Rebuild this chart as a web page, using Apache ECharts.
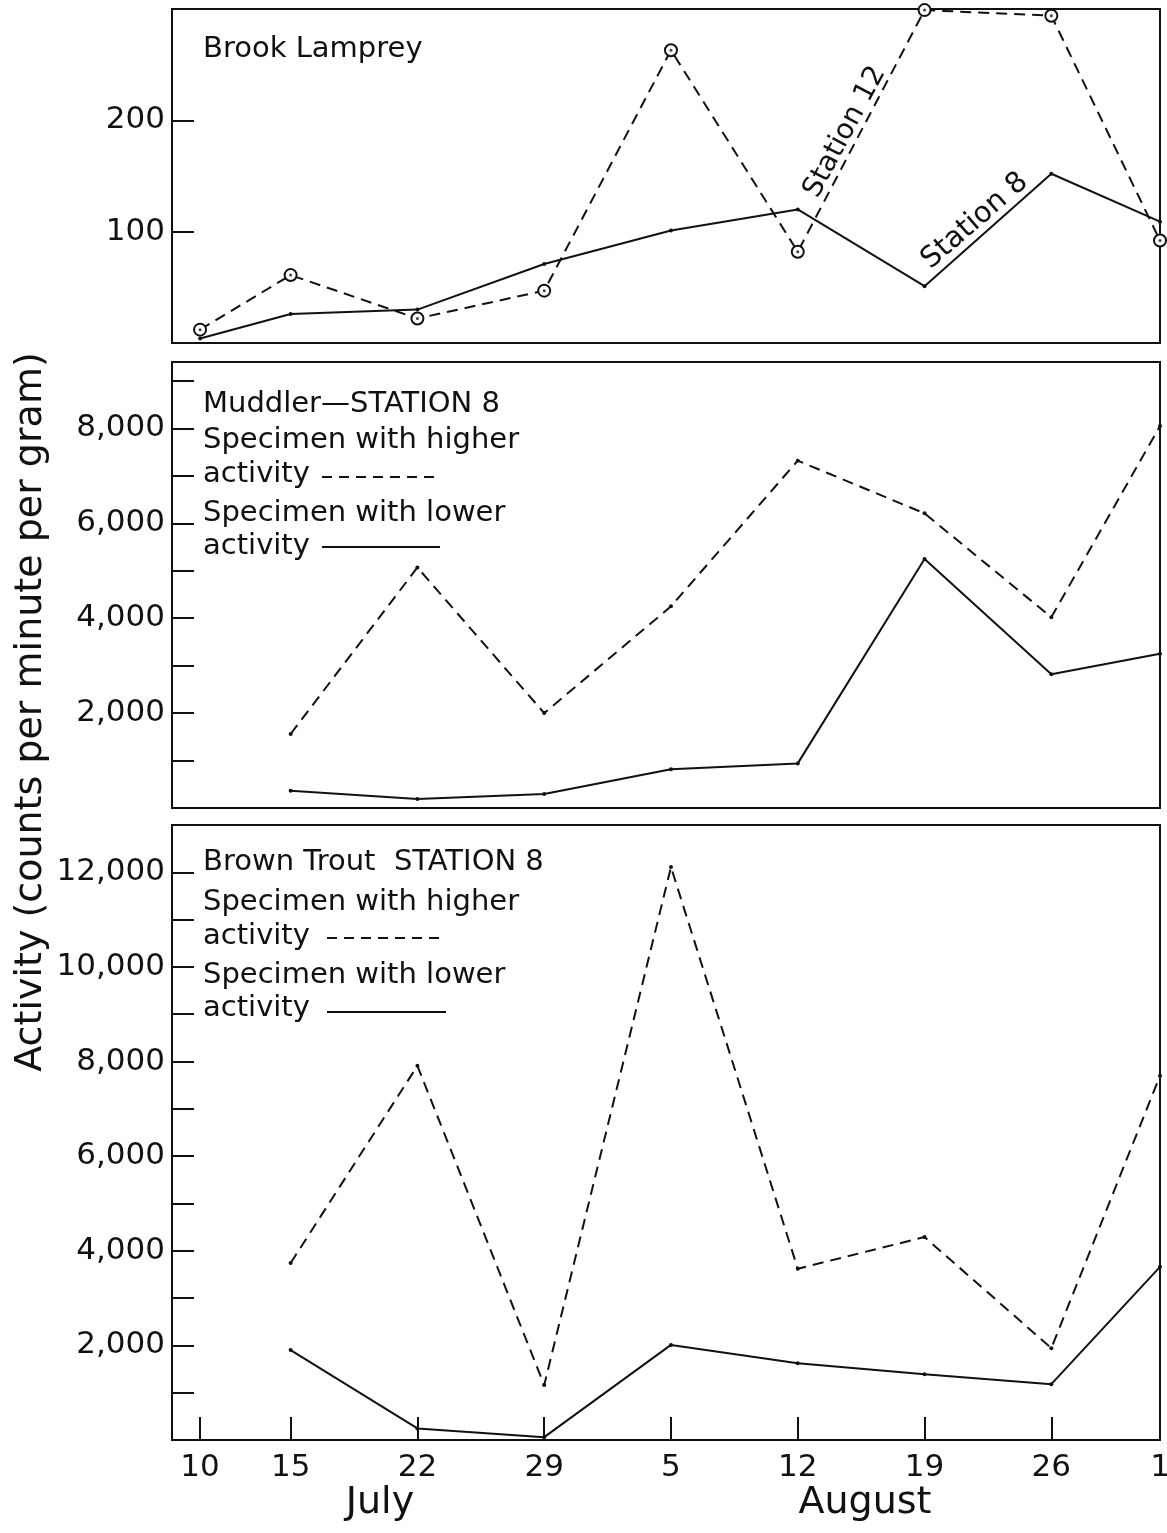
<!DOCTYPE html>
<html>
<head>
<meta charset="utf-8">
<script src="https://cdn.jsdelivr.net/npm/echarts@6/dist/echarts.min.js"></script>
<style>
html,body{margin:0;padding:0;background:#fff;}
#chart{width:1167px;height:1533px;}
</style>
</head>
<body>
<div id="chart"></div>
<script>
// ---- data ----
// x positions: day number counted from June 30 (July 10 = 10, Aug 5 = 36, Sep 1 = 63)
const dayValues = [10, 15, 22, 29, 36, 43, 50, 57, 63];
const dayLabels = ['10', '15', '22', '29', '5', '12', '19', '26', '1'];
const fishDays = [15, 22, 29, 36, 43, 50, 57, 63];

// Brook Lamprey (counts per minute per gram)
const lampreyStation12 = [12, 61, 22, 47, 263, 82, 299, 294, 92];
const lampreyStation8 = [4, 26, 30, 71, 101, 120, 51, 152, 109];

// Muddler - Station 8
const muddlerHigher = [1560, 5070, 2000, 4250, 7320, 6210, 4020, 8050];
const muddlerLower = [365, 190, 295, 815, 940, 5250, 2820, 3250];

// Brown Trout - Station 8
const troutHigher = [3740, 7910, 1160, 12110, 3620, 4290, 1940, 7700];
const troutLower = [1900, 245, 60, 2010, 1620, 1390, 1180, 3660];

// tick values
const lampreyTicks = [100, 200];
const muddlerTicks = [1000, 2000, 3000, 4000, 5000, 6000, 7000, 8000, 9000];
const muddlerLabels = [2000, 4000, 6000, 8000];
const troutTicks = [1000, 2000, 3000, 4000, 5000, 6000, 7000, 8000, 9000, 10000, 11000, 12000];
const troutLabels = [2000, 4000, 6000, 8000, 10000, 12000];

// ---- chart ----
const FONT = 'DejaVu Sans';
const INK = '#111';
const pair = (xs, ys) => ys.map((v, i) => [xs[i], v]);
const fmt = v => v >= 1000 ? String(v).replace(/\B(?=(\d{3})+(?!\d))/g, ',') : String(v);

const gridBase = { left: 172, right: 7, show: true, borderColor: INK, borderWidth: 2, backgroundColor: 'transparent', containLabel: false, outerBoundsMode: 'none' };
const grids = [
  Object.assign({ top: 9, height: 334 }, gridBase),
  Object.assign({ top: 362, height: 446 }, gridBase),
  Object.assign({ top: 825, height: 615 }, gridBase)
];

function xAx(i, showLabels) {
  return {
    type: 'value', gridIndex: i, min: 8.45, max: 63,
    axisLine: { show: false },
    splitLine: { show: false },
    axisTick: showLabels ? { show: true, inside: true, length: 23, lineStyle: { color: INK, width: 2 }, customValues: dayValues } : { show: false },
    axisLabel: showLabels ? {
      show: true, customValues: dayValues, margin: 12,
      fontFamily: FONT, fontSize: 31, color: INK,
      formatter: v => dayLabels[dayValues.indexOf(v)]
    } : { show: false }
  };
}
function yAx(i, max, ticks, labels) {
  return {
    type: 'value', gridIndex: i, min: 0, max: max,
    axisLine: { show: false },
    splitLine: { show: false },
    axisTick: { show: true, inside: true, length: 22, lineStyle: { color: INK, width: 2 }, customValues: ticks },
    axisLabel: { show: true, customValues: labels, margin: 7, fontFamily: FONT, fontSize: 31, color: INK, formatter: fmt }
  };
}

const solid = { color: INK, width: 2, type: 'solid' };
const dashed = { color: INK, width: 2, type: [11, 7] };
const dot = { symbol: 'circle', symbolSize: 4, itemStyle: { color: INK } };

const series = [
  Object.assign({ type: 'line', xAxisIndex: 0, yAxisIndex: 0, data: pair(dayValues, lampreyStation8), lineStyle: solid }, dot),
  { type: 'line', xAxisIndex: 0, yAxisIndex: 0, data: pair(dayValues, lampreyStation12), lineStyle: dashed,
    symbol: 'emptyCircle', symbolSize: 12, itemStyle: { color: INK, borderColor: INK, borderWidth: 1.8 } },
  { type: 'scatter', xAxisIndex: 0, yAxisIndex: 0, data: pair(dayValues, lampreyStation12),
    symbol: 'circle', symbolSize: 3, itemStyle: { color: INK }, z: 5 },
  Object.assign({ type: 'line', xAxisIndex: 1, yAxisIndex: 1, data: pair(fishDays, muddlerHigher), lineStyle: dashed }, dot),
  Object.assign({ type: 'line', xAxisIndex: 1, yAxisIndex: 1, data: pair(fishDays, muddlerLower), lineStyle: solid }, dot),
  Object.assign({ type: 'line', xAxisIndex: 2, yAxisIndex: 2, data: pair(fishDays, troutHigher), lineStyle: dashed }, dot),
  Object.assign({ type: 'line', xAxisIndex: 2, yAxisIndex: 2, data: pair(fishDays, troutLower), lineStyle: solid }, dot)
];
series.forEach(s => { s.animation = false; s.silent = true; s.clip = false; });

function txt(x, y, text, size, align, rot) {
  const el = {
    type: 'text', x: x, y: y,
    style: { text: text, fontFamily: FONT, fontSize: size, fill: INK, textVerticalAlign: 'middle', textAlign: align || 'left' }
  };
  if (rot) el.rotation = rot * Math.PI / 180;
  return el;
}
function seg(x1, x2, y, dash) {
  return { type: 'line', shape: { x1: x1, y1: y, x2: x2, y2: y }, style: { stroke: INK, lineWidth: 2, lineDash: dash ? [10, 7] : null } };
}

const graphic = [
  txt(203, 49, 'Brook Lamprey', 29),
  txt(845, 132, 'Station 12', 28, 'center', 62),
  txt(975, 221, 'Station 8', 29, 'center', 41),

  txt(203, 404, 'Muddler\u2014STATION 8', 29),
  txt(203, 440, 'Specimen with higher', 29),
  txt(203, 474, 'activity', 29),
  seg(322, 441, 477, true),
  txt(203, 513, 'Specimen with lower', 29),
  txt(203, 546, 'activity', 29),
  seg(322, 440, 547, false),

  txt(203, 862, 'Brown Trout  STATION 8', 29),
  txt(203, 902, 'Specimen with higher', 29),
  txt(203, 936, 'activity', 29),
  seg(327, 446, 938, true),
  txt(203, 975, 'Specimen with lower', 29),
  txt(203, 1008, 'activity', 29),
  seg(327, 446, 1012, false),

  txt(380, 1503, 'July', 38, 'center'),
  txt(865, 1503, 'August', 38, 'center'),

  txt(31, 712, 'Activity (counts per minute per gram)', 38, 'center', 90)
];

const chart = echarts.init(document.getElementById('chart'), null, { renderer: 'canvas' });
chart.setOption({
  animation: false,
  backgroundColor: '#fff',
  grid: grids,
  xAxis: [xAx(0, false), xAx(1, false), xAx(2, true)],
  yAxis: [yAx(0, 300, lampreyTicks, lampreyTicks), yAx(1, 9400, muddlerTicks, muddlerLabels), yAx(2, 13000, troutTicks, troutLabels)],
  series: series,
  graphic: graphic
});
</script>
</body>
</html>
